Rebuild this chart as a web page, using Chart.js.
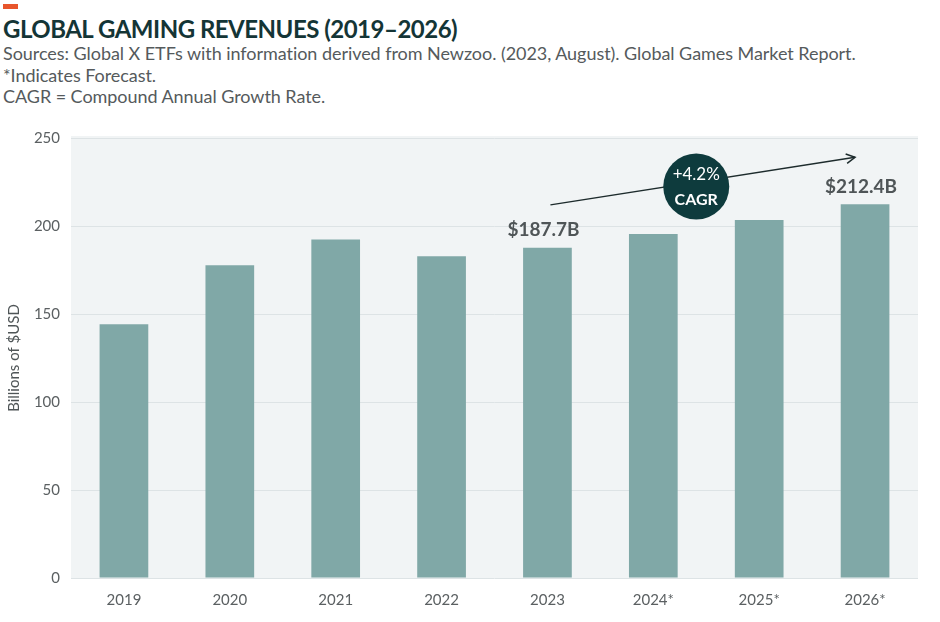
<!DOCTYPE html>
<html>
<head>
    <title>Global Gaming Revenues</title>
    <style>
        body { margin: 0; background: #fff; font-family: Lato, Arial, sans-serif; }
        .page { position: relative; width: 940px; height: 622px; overflow: hidden; }
        .mark { position: absolute; left: 3px; top: 4px; width: 15px; height: 5px; background: #e8552c; }
        .title {
            position: absolute; left: 3px; top: 14px;
            font-size: 24px; font-weight: bold; color: #143536; letter-spacing: -0.5px;
        }
        .sub {
            position: absolute; left: 3px; top: 43px;
            font-size: 18px; line-height: 21.5px; color: #555a5c; letter-spacing: -0.05px;
        }
        canvas { position: absolute; left: 0; top: 0; }
    </style>
    <script src="https://cdn.jsdelivr.net/npm/chart.js@4"></script>
</head>
<body>
<div class="page">
    <div class="mark"></div>
    <div class="title">GLOBAL GAMING REVENUES (2019–2026)</div>
    <div class="sub">
        Sources: Global X ETFs with information derived from Newzoo. (2023, August). Global Games Market Report.<br>
        *Indicates Forecast.<br>
        CAGR = Compound Annual Growth Rate.
    </div>
    <canvas id="revChart" width="940" height="622"></canvas>
</div>
<script>
    const years = ['2019', '2020', '2021', '2022', '2023', '2024*', '2025*', '2026*'];
    const revenues = [144.2, 177.7, 192.4, 182.8, 187.7, 195.4, 203.4, 212.4];
    const yTicks = [0, 50, 100, 150, 200, 250];
    const valueLabels = { 4: '$187.7B', 7: '$212.4B' };
    const cagrText = ['+4.2%', 'CAGR'];

    // plot background + callouts
    const extras = {
        id: 'extras',
        beforeDraw(chart) {
            const { ctx, chartArea: a } = chart;
            ctx.save();
            ctx.fillStyle = '#f1f4f5';
            ctx.fillRect(a.left, a.top - 2, a.right - a.left, a.bottom - a.top + 2);
            ctx.restore();
        },
        afterDatasetsDraw(chart) {
            const { ctx } = chart;
            const x = chart.scales.x, y = chart.scales.y;
            ctx.save();

            // value labels
            ctx.fillStyle = '#4f5557';
            ctx.font = 'bold 19px Lato, Arial, sans-serif';
            ctx.textAlign = 'center';
            ctx.textBaseline = 'bottom';
            Object.keys(valueLabels).forEach(i => {
                ctx.fillText(valueLabels[i], x.getPixelForValue(+i) - 4, y.getPixelForValue(revenues[i]) - 8);
            });

            // growth arrow
            const x0 = x.getPixelForValue(4) + 3, y0 = y.getPixelForValue(212);
            const x1 = x.getPixelForValue(7) - 10, y1 = y.getPixelForValue(239);
            ctx.strokeStyle = '#1d2b2c';
            ctx.lineWidth = 1.5;
            ctx.beginPath();
            ctx.moveTo(x0, y0);
            ctx.lineTo(x1, y1);
            ctx.stroke();
            const ang = Math.atan2(y1 - y0, x1 - x0);
            ctx.beginPath();
            ctx.moveTo(x1 - 10 * Math.cos(ang - 0.5), y1 - 10 * Math.sin(ang - 0.5));
            ctx.lineTo(x1, y1);
            ctx.lineTo(x1 - 10 * Math.cos(ang + 0.5), y1 - 10 * Math.sin(ang + 0.5));
            ctx.stroke();

            // CAGR badge
            const cx = (x.getPixelForValue(5) + x.getPixelForValue(6)) / 2 - 10;
            const cy = y.getPixelForValue(223) + 1;
            ctx.fillStyle = '#0e3b3d';
            ctx.beginPath();
            ctx.arc(cx, cy, 33, 0, Math.PI * 2);
            ctx.fill();
            ctx.fillStyle = '#ffffff';
            ctx.font = '17px Lato, Arial, sans-serif';
            ctx.textBaseline = 'middle';
            ctx.fillText(cagrText[0], cx, cy - 12);
            ctx.font = 'bold 16px Lato, Arial, sans-serif';
            ctx.fillText(cagrText[1], cx, cy + 13);
            ctx.restore();
        }
    };

    new Chart(document.getElementById('revChart'), {
        type: 'bar',
        data: {
            labels: years,
            datasets: [{
                data: revenues,
                backgroundColor: '#80a8a7',
                categoryPercentage: 1,
                barPercentage: 0.46
            }]
        },
        options: {
            responsive: false,
            animation: false,
            layout: { padding: { top: 138, right: 22, left: 0, bottom: 0 } },
            plugins: { legend: { display: false }, tooltip: { enabled: false } },
            scales: {
                x: {
                    grid: { display: false },
                    border: { display: false },
                    ticks: { color: '#5b6062', font: { size: 15, family: 'Lato, Arial, sans-serif' }, padding: 5 },
                    afterFit(s) { s.height = 44; }
                },
                y: {
                    min: 0, max: 250,
                    afterBuildTicks(s) { s.ticks = yTicks.map(v => ({ value: v })); },
                    grid: { color: '#dde3e5', lineWidth: 1, drawTicks: false },
                    border: { display: false },
                    ticks: { color: '#5b6062', font: { size: 15, family: 'Lato, Arial, sans-serif' }, padding: 11 },
                    title: {
                        display: true, text: 'Billions of $USD', color: '#4f5557',
                        font: { size: 15, family: 'Lato, Arial, sans-serif' }, padding: { top: 5, bottom: 12 }
                    },
                    afterFit(s) { s.width = 71; }
                }
            }
        },
        plugins: [extras]
    });
</script>
</body>
</html>
